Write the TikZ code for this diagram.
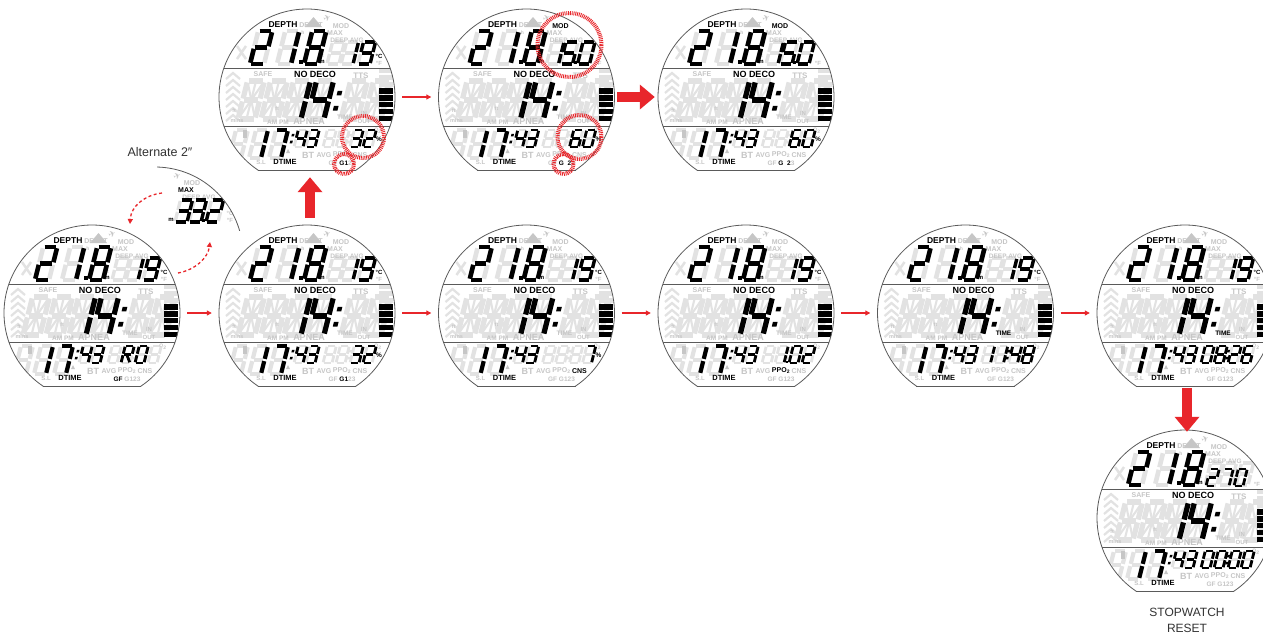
\documentclass[tikz,border=0pt]{standalone}
\usepackage{fontspec}
\setmainfont{Liberation Sans}
\newfontfamily\djv{DejaVu Sans}
\usetikzlibrary{arrows.meta}
\definecolor{ghostc}{HTML}{E2E2E2}
\definecolor{labg}{HTML}{C6C6C6}
\definecolor{outlc}{HTML}{5A5A5A}
\definecolor{rd}{HTML}{E8262B}
\definecolor{txt}{HTML}{333333}
\newcommand\fs[1]{\fontsize{#1}{#1}\selectfont\bfseries}
% digit sizes
\newcommand\szD{\def\dh{33}\def\dm{16.5}\def\dw{14}\def\lw{4.6}\def\gp{1.3}}
\newcommand\szT{\def\dh{22}\def\dm{11}\def\dw{12}\def\lw{3.4}\def\gp{1}}
\newcommand\szM{\def\dh{38}\def\dm{19}\def\dw{17}\def\lw{5.2}\def\gp{1.5}}
\newcommand\szB{\def\dh{28}\def\dm{14}\def\dw{12}\def\lw{4.2}\def\gp{1.2}}
\newcommand\szS{\def\dh{17}\def\dm{8.5}\def\dw{9}\def\lw{2.8}\def\gp{0.8}}
% digit segment lists
\def\Dzero{a,b,c,d,e,f}\def\Done{b,c}\def\Dtwo{a,b,d,e,g}\def\Dthree{a,b,c,d,g}
\def\Dfour{b,c,f,g}\def\Dfive{a,c,d,f,g}\def\Dsix{a,c,d,e,f,g}\def\Dseven{a,b,c}
\def\Deight{a,b,c,d,e,f,g}\def\Dnine{a,b,c,d,f,g}\def\DR{a,b,e,f,g,r}
% segments
\def\sga[#1]{\draw[#1] (0,-\dh) -- (\dw,-\dh);}
\def\sgb[#1]{\draw[#1] (\dw,-\dh) -- (\dw,-\dm);}
\def\sgc[#1]{\draw[#1] (\dw,-\dm) -- (\dw,0);}
\def\sgd[#1]{\draw[#1] (0,0) -- (\dw,0);}
\def\sge[#1]{\draw[#1] (0,-\dm) -- (0,0);}
\def\sgf[#1]{\draw[#1] (0,-\dh) -- (0,-\dm);}
\def\sgg[#1]{\draw[#1] (0,-\dm) -- (\dw,-\dm);}
\def\sgr[#1]{\draw[#1] (0.4*\dw,-\dm) -- (\dw,0);}
\def\sgp[#1]{\draw[#1] (0,-\dh) -- (0.5*\dw,-\dm);}
\def\sgq[#1]{\draw[#1] (\dw,-\dh) -- (0.5*\dw,-\dm);}
\def\sgs[#1]{\draw[#1] (0,0) -- (0.5*\dw,-\dm);}
\def\sgt[#1]{\draw[#1] (\dw,0) -- (0.5*\dw,-\dm);}
\def\sgv[#1]{\draw[#1] (0.5*\dw,-\dh) -- (0.5*\dw,0);}
\tikzset{
 seg/.style={line width=\lw, shorten <=\gp, shorten >=\gp, line cap=butt},
 actseg/.style={seg, draw=black},
 ghostseg/.style={seg, draw=ghostc},
 diagseg/.style={draw=ghostc, line width=0.4*\lw, shorten <=2*\gp, shorten >=2*\gp},
 facen/.style={circle, minimum size=176pt, inner sep=0pt, draw=none},
 outl/.style={draw=outlc, line width=0.8pt},
 lg/.style={inner sep=0pt, text=labg},
 lb/.style={inner sep=0pt, text=black},
 thinarr/.style={draw=rd, line width=1.1pt, -{Triangle[length=5pt,width=5pt]}, shorten <=7pt, shorten >=7pt},
 fatarr/.style={draw=rd, line width=10pt, -{Triangle[length=15pt 0 0,width=24pt 0 0]}},
 dasharr/.style={draw=rd, line width=1.3pt, dash pattern=on 3pt off 2.5pt, -{Triangle[length=5pt,width=5pt]}},
 ring/.style={draw=rd, line width=4pt, dash pattern=on 0.9pt off 0.9pt},
 caption/.style={inner sep=0pt, text=txt, font=\fontsize{12.5}{12.5}\selectfont},
}
\newcommand\Gh[2]{\begin{scope}[shift={#1},xslant=0.25]#2\foreach\s in {a,b,c,d,e,f,g}{\csname sg\s\endcsname[ghostseg]}\end{scope}}
\newcommand\GhM[1]{\begin{scope}[shift={#1},xslant=0.25]\szM\foreach\s in {a,b,c,d,e,f,g}{\csname sg\s\endcsname[ghostseg]}\foreach\s in {p,q,s,t,v}{\csname sg\s\endcsname[diagseg]}\end{scope}}
\newcommand\Ac[3]{\begin{scope}[shift={#1},xslant=0.25]#2\foreach\s in #3{\csname sg\s\endcsname[actseg]}\end{scope}}
\newcommand\Col[3]{\begin{scope}[shift={#1},xslant=0.25]#2\fill[#3] (-0.45*\lw,-0.22*\dh) rectangle ++(0.9*\lw,-0.9*\lw);\fill[#3] (-0.45*\lw,-0.62*\dh) rectangle ++(0.9*\lw,-0.9*\lw);\end{scope}}
\newcommand\pct{\node[lb,font=\fs{6.5}] at (72,42) {\%};}
\newcommand\tnineteen{\Ac{(34,-33)}\szT\Done \Ac{(51,-33)}\szT\Dnine \node[lb,font=\fs{6}] at (72,-41) {°C};}
\newcommand\tfifteen{\Ac{(20,-33)}\szT\Done \Ac{(34,-33)}\szT\Dfive \fill (47,-33) rectangle ++(3,-3); \Ac{(51,-33)}\szT\Dzero}
% label colours (defaults, overridden per face)
\newcommand\labdefaults{\def\cMOD{labg}\def\cGF{labg}\def\cG{labg}\def\cGi{labg}\def\cGii{labg}\def\cGiii{labg}\def\cCNS{labg}\def\cPPO{labg}\def\cTIME{labg}}
\newcommand\facebase{%
 % ghosts
 \Gh{(-57,-33)}\szD \Gh{(-30,-33)}\szD \Gh{(-3,-33)}\szD
 \draw[ghostc,line width=2.5] (-70,-51)--(-61,-38) (-61,-51)--(-70,-38);
 \Gh{(20,-33)}\szT \Gh{(34,-33)}\szT \Gh{(51,-33)}\szT
 \GhM{(-69,22)} \GhM{(-46,22)} \GhM{(-23,22)} \GhM{(0,22)} \GhM{(34,22)} \GhM{(57,22)}
 \Col{(-26,22)}\szM{ghostc}
 \Gh{(-78,61)}\szB \Gh{(-58,61)}\szB \Gh{(-38,61)}\szB
 \Gh{(-13,50)}\szS \Gh{(-1,50)}\szS
 \Gh{(16,50)}\szS \Gh{(29,50)}\szS \Gh{(43,50)}\szS \Gh{(56,50)}\szS
 \Col{(40.5,50)}\szS{ghostc}
 \foreach \yy in {-22,-15,...,20} \draw[ghostc, line width=2.2] (-81,\yy+4) -- (-74,\yy-2) -- (-67,\yy+4);
 \foreach \i in {0,...,4} \fill[black] (72,24-6.8*\i) rectangle (86,18.6-6.8*\i);
 \foreach \i in {5,6,7} \fill[ghostc] (72,24-6.8*\i) rectangle (86,18.6-6.8*\i);
 % icons
 \fill[labg] (-2,-70) -- (6.5,-80) -- (15,-70) -- cycle;
 \node[lg, rotate=20, font=\djv\fontsize{9}{9}\selectfont] at (20,-79) {✈};
 \fill[labg] (-64,33) rectangle (-60,41);
 \fill[labg] (-21,56) -- (-19,52) -- (-17,56) -- cycle;
 % labels
 \node[lg,font=\fs{7}] at (4,-72) {DESAT};
 \node[lg,font=\fs{7},text=\cMOD] at (34,-71) {MOD};
 \node[lg,font=\fs{7}] at (28,-64) {MAX};
 \node[lg,font=\fs{6.5}] at (40,-57) {DEEP AVG};
 \node[lg,font=\fs{5}] at (-4,-64) {h};
 \node[lg,font=\fs{5}] at (15,-41) {ft};
 \node[lg,font=\fs{6}] at (72,-34) {°F};
 \node[lg,font=\fs{7}] at (-44,-23) {SAFE};
 \node[lg,font=\fs{8}] at (54,-21) {TTS};
 \node[lg,font=\fs{6.5}] at (-29,25) {AM PM};
 \node[lg,font=\fs{9}] at (2,24) {APNEA};
 \node[lg,font=\fs{6.5},text=\cTIME] at (38,20) {TIME};
 \node[lg,font=\fs{6}] at (57,16) {IN};
 \node[lg,font=\fs{6}] at (57,24) {OUT};
 \node[lg,font=\fs{5.5}] at (-70,24) {mins};
 \node[lg,font=\fs{5}] at (-73,14) {ft};
 \node[lg,font=\fs{5}] at (-30,12) {ft};
 \node[lg,font=\fs{9}] at (1,58) {BT};
 \node[lg,font=\fs{7}] at (17,58) {AVG};
 \node[lg,font=\fs{7},text=\cPPO] at (35,58) {PPO\textsubscript{2}};
 \node[lg,font=\fs{7},text=\cCNS] at (53,58) {CNS};
 \node[lg,font=\fs{6.5}] at (35,66) {\textcolor{\cGF}{GF} \textcolor{\cG}{G}\textcolor{\cGi}{1}\textcolor{\cGii}{2}\textcolor{\cGiii}{3}};
 \node[lg,font=\fs{6}] at (-46,65) {S.L};
 \node[lg,font=\fs{5}] at (71,34) {O\textsubscript{2}};
 \node[lb,font=\fs{8.5}] at (-24,-72) {DEPTH};
 \node[lb,font=\fs{6}] at (15,-35) {m};
 \node[lb,font=\fs{9}] at (8,-23) {NO DECO};
 \node[lb,font=\fs{7.5}] at (-22,65) {DTIME};
 % active digits
 \Ac{(-57,-33)}\szD\Dtwo \Ac{(-30,-33)}\szD\Done \fill (-8,-33) rectangle ++(4,-4); \Ac{(-3,-33)}\szD\Deight
 \Ac{(-23,22)}\szM\Done \Ac{(0,22)}\szM\Dfour \Col{(26,22)}\szM{black}
 \Ac{(-58,61)}\szB\Done \Ac{(-38,61)}\szB\Dseven \Col{(-17,50)}\szS{black}
 \Ac{(-13,50)}\szS\Dfour \Ac{(-1,50)}\szS\Dthree
}
% #1 x, #2 y, #3 name, #4 upper-right digits, #5 lower-right digits, #6 label colour settings
\newcommand\face[6]{%
 \node[facen] (#3) at (#1,#2) {};
 \begin{scope}[shift={(#1,#2)}]
  \begin{scope}
   \clip (0,0) circle[radius=88];
   \clip (-90,-90) rectangle (90,73);
   \labdefaults #6
   \facebase
   #4 #5
  \end{scope}
  \begin{scope}\clip (-90,-90) rectangle (90,73); \draw[outl] (0,0) circle[radius=88]; \end{scope}
  \draw[outl] (-49.1,73) -- (49.1,73);
  \draw[outl] (-83.1,-29) -- (83.1,-29) (-83.1,29) -- (83.1,29);
 \end{scope}}
\begin{document}
\begin{tikzpicture}[x=1pt,y=-1pt]
\useasboundingbox (0,0) rectangle (1263,633);
\fill[white] (0,0) rectangle (1263,633);
% bottom row
\face{92}{313}{fA}{\tnineteen}{\Ac{(29,50)}\szS\DR \Ac{(43,50)}\szS\Dzero}{\def\cGF{black}}
\face{307}{313}{fB}{\tnineteen}{\Ac{(43,50)}\szS\Dthree \Ac{(56,50)}\szS\Dtwo \pct}{\def\cG{black}\def\cGi{black}}
\face{526.5}{313}{fC}{\tnineteen}{\Ac{(56,50)}\szS\Dseven \pct}{\def\cCNS{black}}
\face{746}{313}{fD}{\tnineteen}{\Ac{(29,50)}\szS\Done \fill (39.5,50) rectangle ++(2.5,-2.5); \Ac{(43,50)}\szS\Dzero \Ac{(56,50)}\szS\Dtwo}{\def\cPPO{black}}
\face{965.5}{313}{fE}{\tnineteen}{\Ac{(16,50)}\szS\Done \Ac{(29,50)}\szS\Done \Col{(40.5,50)}\szS{black} \Ac{(43,50)}\szS\Dfour \Ac{(56,50)}\szS\Deight}{\def\cTIME{black}}
\face{1185}{313}{fF}{\tnineteen}{\Ac{(16,50)}\szS\Dzero \Ac{(29,50)}\szS\Deight \Col{(40.5,50)}\szS{black} \Ac{(43,50)}\szS\Dtwo \Ac{(56,50)}\szS\Dsix}{\def\cTIME{black}}
% top row
\face{307}{97}{fG}{\tnineteen}{\Ac{(43,50)}\szS\Dthree \Ac{(56,50)}\szS\Dtwo \pct}{\def\cG{black}\def\cGi{black}}
\face{526.5}{97}{fH}{\tfifteen}{\Ac{(43,50)}\szS\Dsix \Ac{(56,50)}\szS\Dzero \pct}{\def\cMOD{black}\def\cG{black}\def\cGii{black}\def\cGi{white}}
\face{746}{97}{fI}{\tfifteen}{\Ac{(43,50)}\szS\Dsix \Ac{(56,50)}\szS\Dzero \pct}{\def\cMOD{black}\def\cG{black}\def\cGii{black}\def\cGi{white}}
% stopwatch face
\face{1185}{518}{fJ}{\Ac{(21,-32)}\szS\Dtwo \Ac{(35,-32)}\szS\Dseven \Ac{(49,-32)}\szS\Dzero}{\Ac{(16,50)}\szS\Dzero \Ac{(29,50)}\szS\Dzero \Col{(40.5,50)}\szS{black} \Ac{(43,50)}\szS\Dzero \Ac{(56,50)}\szS\Dzero}{}
% alternate panel
\begin{scope}[shift={(155,255)}]
 \begin{scope}
  \clip (2,-95) rectangle (95,-25);
  \clip (0,0) circle[radius=88];
  \Gh{(20,-33)}\szT \Gh{(34,-33)}\szT \Gh{(51,-33)}\szT
  \node[lg, rotate=20, font=\djv\fontsize{9}{9}\selectfont] at (22,-79) {✈};
  \node[lg,font=\fs{7}] at (37,-72) {MOD};
  \node[lb,font=\fs{7}] at (31,-65) {MAX};
  \node[lg,font=\fs{6.5}] at (44,-58) {DEEP AVG};
  \node[lg,font=\fs{6}] at (75,-42) {°C};
  \node[lg,font=\fs{6}] at (75,-35) {°F};
  \node[lb,font=\fs{6}] at (16,-35) {m};
  \Ac{(20,-33)}\szT\Dthree \Ac{(34,-33)}\szT\Dthree \fill (47,-33) rectangle ++(3,-3); \Ac{(51,-33)}\szT\Dtwo
 \end{scope}
 \begin{scope}\clip (2,-95) rectangle (95,-25); \draw[outl] (0,0) circle[radius=88];\end{scope}
\end{scope}
\node[caption] (alt) at (160,152) {Alternate 2″};
% highlight rings
\draw[ring] (363,137) circle[radius=21];
\draw[ring] (344,164) circle[radius=10];
\draw[ring] (569.5,45) circle[radius=32];
\draw[ring] (579.5,137) circle[radius=22];
\draw[ring] (563.5,164) circle[radius=10];
% connectors
\draw[thinarr] (fA.east) -- (fB.west);
\draw[thinarr] (fB.east) -- (fC.west);
\draw[thinarr] (fC.east) -- (fD.west);
\draw[thinarr] (fD.east) -- (fE.west);
\draw[thinarr] (fE.east) -- (fF.west);
\draw[thinarr] (fG.east) -- (fH.west);
\draw[fatarr, shorten <=2.5pt, shorten >=3pt] (fH.east) -- (fI.west);
\draw[fatarr] ([xshift=3pt,yshift=7pt]fB.north) -- ([xshift=3pt,yshift=8pt]fG.south);
\draw[fatarr] ([xshift=2pt,yshift=13pt]fF.south) -- ([xshift=2pt,yshift=-2pt]fJ.north);
\coordinate (d1s) at (178,273);
\coordinate (d1e) at (210,242);
\coordinate (d2s) at (162,193);
\coordinate (d2e) at (130,224);
\draw[dasharr] (d1s) .. controls (195,270) and (208,258) .. (d1e);
\draw[dasharr] (d2s) .. controls (145,195) and (131,206) .. (d2e);
% caption
\node[caption, font=\fontsize{12}{12}\selectfont] (sw1) at (1187,612) {STOPWATCH};
\node[caption, font=\fontsize{12}{12}\selectfont] (sw2) at (1187,628) {RESET};
\end{tikzpicture}
\end{document}
